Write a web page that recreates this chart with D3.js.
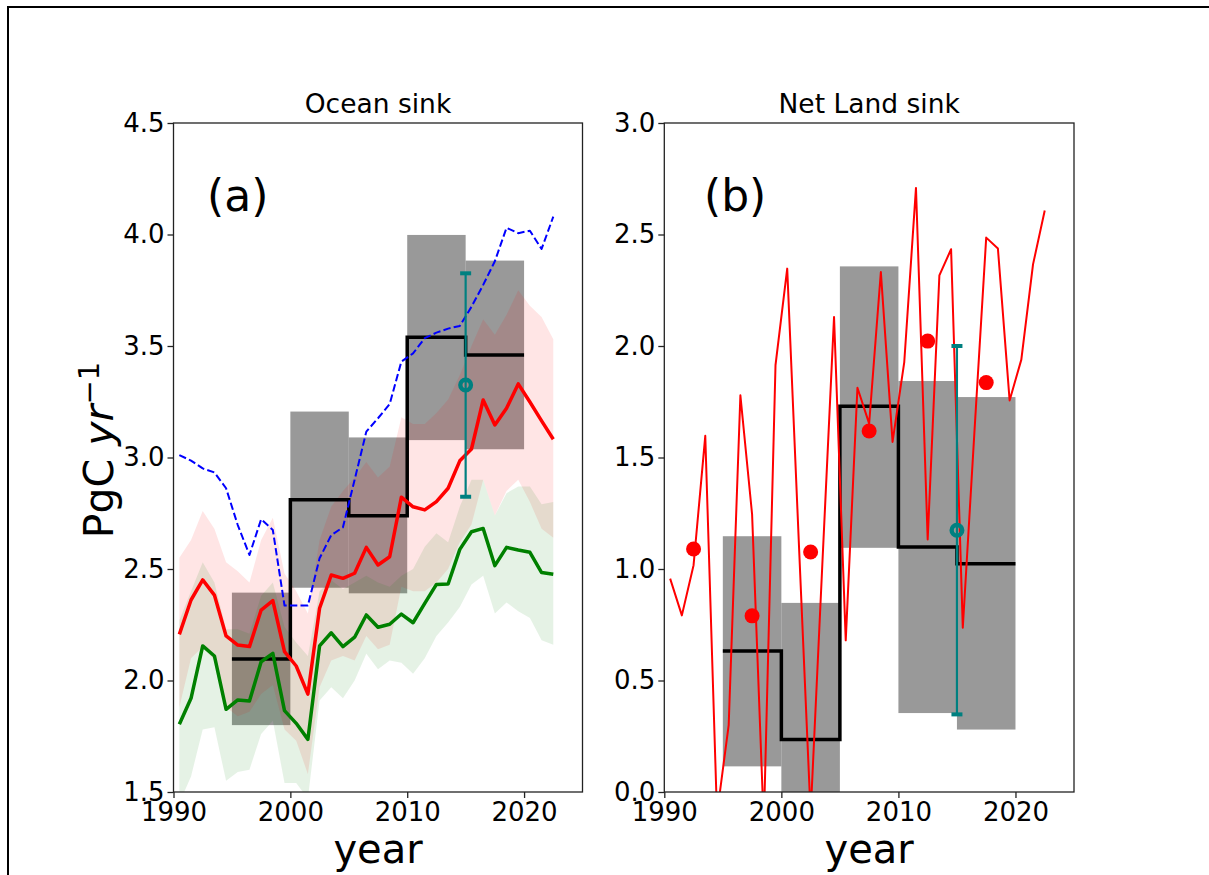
<!DOCTYPE html>
<html><head><meta charset="utf-8">
<script src="https://cdn.jsdelivr.net/npm/d3@7"></script>
<style>body{margin:0;background:#fff}svg{display:block}text{font-family:"DejaVu Sans",sans-serif}</style>
</head><body>
<svg id="c" width="1209" height="875"></svg>
<script>
// ---------- data ----------
const years = [1990.5,1991.5,1992.5,1993.5,1994.5,1995.5,1996.5,1997.5,1998.5,1999.5,2000.5,2001.5,2002.5,2003.5,2004.5,2005.5,2006.5,2007.5,2008.5,2009.5,2010.5,2011.5,2012.5,2013.5,2014.5,2015.5,2016.5,2017.5,2018.5,2019.5,2020.5,2021.5,2022.5];
const oceanRed = [2.207,2.361,2.451,2.383,2.200,2.159,2.152,2.316,2.358,2.129,2.065,1.939,2.324,2.473,2.458,2.481,2.597,2.518,2.555,2.822,2.779,2.765,2.802,2.862,2.985,3.038,3.258,3.146,3.221,3.330,3.249,3.164,3.082];
const oceanRedLow = [1.88,2.10,2.15,2.09,1.88,1.84,1.86,1.94,1.98,1.78,1.73,1.58,1.97,2.09,2.11,2.09,2.20,2.14,2.16,2.42,2.40,2.40,2.44,2.50,2.62,2.70,2.90,2.74,2.85,2.90,2.80,2.68,2.64];
const oceanRedHigh = [2.55,2.63,2.76,2.68,2.53,2.49,2.44,2.63,2.73,2.48,2.40,2.30,2.63,2.78,2.85,2.91,2.98,2.91,2.96,3.18,3.15,3.15,3.20,3.26,3.37,3.50,3.62,3.55,3.64,3.75,3.68,3.63,3.53];
const oceanGreen = [1.804,1.920,2.155,2.110,1.871,1.913,1.908,2.084,2.122,1.865,1.808,1.736,2.155,2.214,2.152,2.194,2.294,2.239,2.252,2.298,2.259,2.346,2.431,2.433,2.588,2.667,2.682,2.515,2.597,2.585,2.575,2.484,2.476];
const oceanGreenLow = [1.45,1.57,1.78,1.79,1.55,1.59,1.60,1.76,1.82,1.54,1.54,1.47,1.91,1.97,1.92,2.00,2.12,2.05,2.09,2.08,2.03,2.10,2.20,2.26,2.33,2.43,2.47,2.30,2.35,2.31,2.28,2.18,2.16];
const oceanGreenHigh = [2.27,2.40,2.53,2.44,2.23,2.23,2.21,2.38,2.44,2.24,2.17,2.11,2.40,2.45,2.41,2.44,2.47,2.44,2.42,2.47,2.50,2.60,2.66,2.62,2.78,2.90,2.90,2.74,2.84,2.87,2.87,2.79,2.80];
const oceanBlue = [3.011,2.986,2.951,2.933,2.862,2.697,2.563,2.723,2.675,2.336,2.336,2.336,2.548,2.652,2.687,2.900,3.116,3.176,3.240,3.430,3.467,3.535,3.560,3.578,3.590,3.676,3.774,3.880,4.030,4.006,4.017,3.935,4.080];

const periodStarts = [1995,2000,2005,2010,2015];
const periodEnds   = [2000,2005,2010,2015,2020];
const oceanBoxLow  = [1.800,2.416,2.391,3.078,3.037];
const oceanBoxHigh = [2.394,3.206,3.090,3.998,3.883];
const oceanStep    = [2.096,2.810,2.739,3.539,3.460];
const oceanErr = {year:2015, value:3.325, low:2.824, high:3.826};

const landRed = [0.957,0.792,1.017,1.597,-0.10,0.30,1.779,1.245,-0.15,1.914,2.347,1.11,-0.10,1.02,2.13,0.68,1.813,1.652,2.332,1.57,1.928,2.709,1.132,2.317,2.434,0.737,1.62,2.486,2.437,1.756,1.939,2.366,2.608];
const landDotYears = [1992.5,1997.5,2002.5,2007.5,2012.5,2017.5];
const landDots = [1.090,0.790,1.076,1.619,2.022,1.836];
const landBoxLow  = [0.115,-0.30,1.095,0.354,0.280];
const landBoxHigh = [1.147,0.848,2.357,1.843,1.771];
const landStep    = [0.632,0.235,1.730,1.099,1.024];
const landErr = {year:2015, value:1.1735, low:0.348, high:2.0};

const xTicks = [1990,2000,2010,2020];
const oceanYTicks = [1.5,2.0,2.5,3.0,3.5,4.0,4.5];
const landYTicks = [0.0,0.5,1.0,1.5,2.0,2.5,3.0];

// ---------- drawing ----------
const svg = d3.select("#c");
svg.append("rect").attr("x",8).attr("y",7).attr("width",1400).attr("height",1200)
  .attr("fill","none").attr("stroke","#000").attr("stroke-width",2);

const TOP = 123, BOT = 792;
let clipId = 0;

function panel(opt){
  const x = d3.scaleLinear().domain([1990,2025]).range([opt.x0,opt.x1]);
  const y = d3.scaleLinear().domain(opt.ydom).range([BOT,TOP]);
  const id = "clip"+(clipId++);
  svg.append("clipPath").attr("id",id).append("rect")
    .attr("x",opt.x0).attr("y",TOP).attr("width",opt.x1-opt.x0).attr("height",BOT-TOP);
  const g = svg.append("g").attr("clip-path",`url(#${id})`);
  opt.draw(g,x,y);

  // spines
  svg.append("rect").attr("x",opt.x0).attr("y",TOP).attr("width",opt.x1-opt.x0).attr("height",BOT-TOP)
    .attr("fill","none").attr("stroke","#222").attr("stroke-width",1.3);

  const ax = svg.append("g").attr("transform",`translate(0,${BOT})`)
    .call(d3.axisBottom(x).tickValues(xTicks).tickFormat(d3.format("d")).tickSize(6).tickPadding(5).tickSizeOuter(0));
  const ay = svg.append("g").attr("transform",`translate(${opt.x0},0)`)
    .call(d3.axisLeft(y).tickValues(opt.yticks).tickFormat(d3.format(".1f")).tickSize(6).tickPadding(3).tickSizeOuter(0));
  [ax,ay].forEach(a=>{
    a.select(".domain").remove();
    a.selectAll(".tick line").attr("stroke","#222").attr("stroke-width",1.3);
    a.selectAll(".tick text").attr("fill","#000").style("font-size","26px").style("font-family","DejaVu Sans");
  });

  const cx = (opt.x0+opt.x1)/2;
  svg.append("text").attr("x",cx).attr("y",113).attr("text-anchor","middle")
    .style("font-size","26.5px").text(opt.title);
  svg.append("text").attr("x",cx).attr("y",863).attr("text-anchor","middle")
    .style("font-size","40px").text("year");
  svg.append("text").attr("x",opt.tagX).attr("y",211).style("font-size","44px").text(opt.tag);
}

function boxes(g,x,y,lo,hi){
  g.selectAll(null).data(periodStarts).enter().append("rect")
    .attr("x",(d)=>x(d))
    .attr("width",(d,i)=>x(periodEnds[i])-x(d))
    .attr("y",(d,i)=>y(hi[i]))
    .attr("height",(d,i)=>y(lo[i])-y(hi[i]))
    .attr("fill","#808080").attr("fill-opacity",0.8);
}
function step(g,x,y,vals){
  const pts=[];
  vals.forEach((v,i)=>{pts.push([periodStarts[i],v]);pts.push([periodEnds[i],v]);});
  g.append("path").attr("d",d3.line().x(d=>x(d[0])).y(d=>y(d[1]))(pts))
    .attr("fill","none").attr("stroke","#000").attr("stroke-width",3.5).attr("stroke-linejoin","miter");
}
function errbar(g,x,y,e){
  const c="#008080", xe=x(e.year);
  g.append("line").attr("x1",xe).attr("x2",xe).attr("y1",y(e.low)).attr("y2",y(e.high))
    .attr("stroke",c).attr("stroke-width",2.2);
  [e.low,e.high].forEach(v=>g.append("line").attr("x1",xe-5.5).attr("x2",xe+5.5)
    .attr("y1",y(v)).attr("y2",y(v)).attr("stroke",c).attr("stroke-width",4));
  g.append("circle").attr("cx",xe).attr("cy",y(e.value)).attr("r",5.3)
    .attr("fill","none").attr("stroke",c).attr("stroke-width",4.4);
}
function band(g,x,y,lo,hi,col){
  const area = d3.area().x((d,i)=>x(years[i])).y0((d,i)=>y(lo[i])).y1((d,i)=>y(hi[i]));
  g.append("path").attr("d",area(years)).attr("fill",col).attr("fill-opacity",0.1);
}
function line(g,x,y,vals,col,w,dash){
  const p = g.append("path").attr("d",d3.line().x((d,i)=>x(years[i])).y(d=>y(d))(vals))
    .attr("fill","none").attr("stroke",col).attr("stroke-width",w).attr("stroke-linejoin","round");
  if(dash) p.attr("stroke-dasharray",dash);
}

panel({x0:173.5,x1:582.5,ydom:[1.5,4.5],yticks:oceanYTicks,title:"Ocean sink",tag:"(a)",tagX:207,
  draw:(g,x,y)=>{
    boxes(g,x,y,oceanBoxLow,oceanBoxHigh);
    band(g,x,y,oceanRedLow,oceanRedHigh,"#ff0000");
    band(g,x,y,oceanGreenLow,oceanGreenHigh,"#008000");
    step(g,x,y,oceanStep);
    line(g,x,y,oceanRed,"#ff0000",3.5);
    line(g,x,y,oceanGreen,"#008000",3.5);
    line(g,x,y,oceanBlue,"#0000ff",2,"7.4,3.2");
    errbar(g,x,y,oceanErr);
  }});

panel({x0:664.3,x1:1074,ydom:[0,3],yticks:landYTicks,title:"Net Land sink",tag:"(b)",tagX:704,
  draw:(g,x,y)=>{
    boxes(g,x,y,landBoxLow,landBoxHigh);
    step(g,x,y,landStep);
    line(g,x,y,landRed,"#ff0000",2);
    g.selectAll(null).data(landDotYears).enter().append("circle")
      .attr("cx",d=>x(d)).attr("cy",(d,i)=>y(landDots[i])).attr("r",7.5).attr("fill","#ff0000");
    errbar(g,x,y,landErr);
  }});

// y label
const yl = svg.append("text").attr("transform","translate(113,450) rotate(-90)")
  .attr("text-anchor","middle").style("font-size","41px");
yl.append("tspan").text("PgC ");
yl.append("tspan").style("font-style","italic").text("yr");
yl.append("tspan").attr("dy","-0.48em").style("font-size","29px").text("\u22121");
</script>
</body></html>
